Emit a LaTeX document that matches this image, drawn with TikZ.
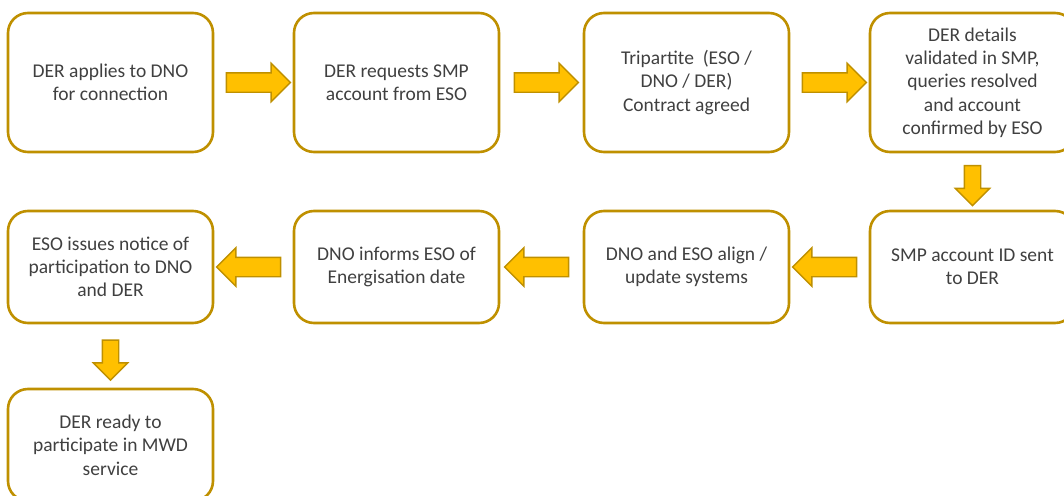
\documentclass[tikz,border=0pt]{standalone}
\usepackage{fontspec}
\setmainfont{Carlito}
\usetikzlibrary{shapes.arrows,calc}
\definecolor{gold}{HTML}{BF9000}
\definecolor{amber}{HTML}{FFC000}
\definecolor{txt}{HTML}{404040}
\tikzset{
  stepbox/.style={draw=gold, line width=2.6pt, rounded corners=20pt, fill=white,
    text=txt, align=center, font=\fontsize{19.5}{23.3}\selectfont,
    minimum width=205pt, inner sep=0pt},
  toprow/.style={stepbox, minimum height=139pt},
  lowrow/.style={stepbox, minimum height=112pt},
  harrow/.style={single arrow, draw=gold, fill=amber, line width=1.4pt,
    inner xsep=0pt, inner ysep=9pt, text height=0pt, text depth=0pt, text width=0pt,
    single arrow head extend=9.5pt, minimum height=64pt},
  varrow/.style={single arrow, draw=gold, fill=amber, line width=1.4pt,
    inner xsep=7.5pt, inner ysep=0pt, text height=0pt, text depth=0pt, text width=0pt,
    single arrow head extend=9pt, minimum height=40pt, shape border rotate=270},
}
\begin{document}
\begin{tikzpicture}[x=1pt,y=-1pt]
\useasboundingbox (0,0) rectangle (1064,495);
\node[toprow] (b1) at (110.5,82.5) {DER applies to DNO\\for connection};
\node[toprow] (b2) at (396.5,82.5) {DER requests SMP\\account from ESO};
\node[toprow] (b3) at (686.5,82.5) {Tripartite\ \ (ESO /\\DNO / DER)\\Contract agreed};
\node[toprow] (b4) at (972.5,82.5) {DER details\\validated in SMP,\\queries resolved\\and account\\confirmed by ESO};
\node[lowrow] (b5) at (972.5,267) {SMP account ID sent\\to DER};
\node[lowrow] (b6) at (686.5,267) {DNO and ESO align /\\update systems};
\node[lowrow] (b7) at (396.5,267) {DNO informs ESO of\\Energisation date};
\node[lowrow] (b8) at (110.5,267) {ESO issues notice of\\participation to DNO\\and DER};
\node[lowrow] (b9) at (110.5,445) {DER ready to\\participate in MWD\\service};
\node[harrow] (a12) at ($(b1.east)!0.5!(b2.west)$) {};
\node[harrow] (a23) at ($(b2.east)!0.5!(b3.west)$) {};
\node[harrow] (a34) at ($(b3.east)!0.5!(b4.west)$) {};
\node[varrow] (a45) at ($(b4.south)!0.5!(b5.north)$) {};
\node[harrow, shape border rotate=180] (a56) at ($(b5.west)!0.5!(b6.east)$) {};
\node[harrow, shape border rotate=180] (a67) at ($(b6.west)!0.5!(b7.east)$) {};
\node[harrow, shape border rotate=180] (a78) at ($(b7.west)!0.5!(b8.east)$) {};
\node[varrow] (a89) at ($(b8.south)!0.5!(b9.north)$) {};
\end{tikzpicture}
\end{document}
